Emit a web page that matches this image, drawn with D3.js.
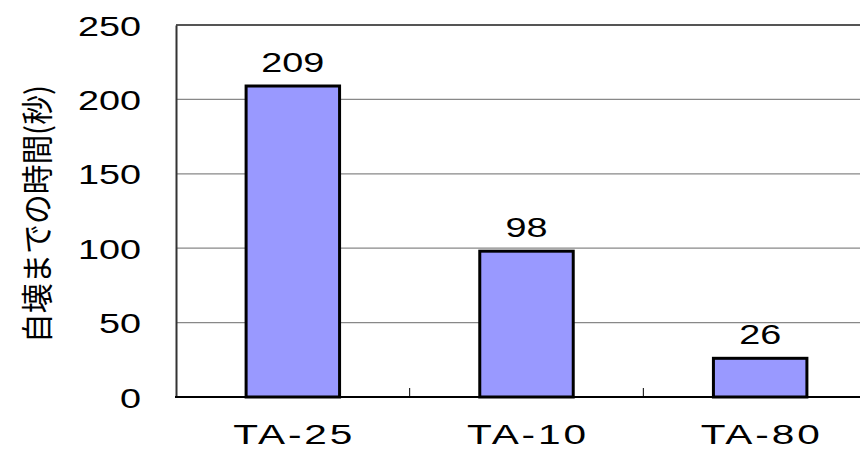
<!DOCTYPE html>
<html>
<head>
<meta charset="utf-8">
<script src="https://cdn.jsdelivr.net/npm/d3@7"></script>
<style>
  body { margin: 0; background: #fff; }
  svg { display: block; }
  text { font-family: "Liberation Sans", Arial, sans-serif; fill: #000; }
</style>
</head>
<body>
<div id="chart"></div>
<script>
'use strict';

var categories = ['TA-25', 'TA-10', 'TA-80'];
var values = [209, 98, 26];
var yTicks = [0, 50, 100, 150, 200, 250];
var yLabel = '自壊までの時間(秒)';

var width = 860, height = 449;
var margins = { left: 176, top: 25, right: -17, bottom: 52 };
var stretch = 1.35;
var xStretch = 1.45;
var xSpacing = 2;

var svg = d3.select('#chart').append('svg')
  .attr('width', width)
  .attr('height', height);

var xScale = d3.scaleBand()
  .domain(categories)
  .range([margins.left, width - margins.right])
  .paddingInner(0.6)
  .paddingOuter(0.3);

var yScale = d3.scaleLinear()
  .domain([0, 250])
  .range([height - margins.bottom, margins.top]);

// gridlines
svg.append('g')
  .attr('class', 'grid')
  .selectAll('line')
  .data(yTicks.filter(function(d) { return d > 0; }))
  .enter()
  .append('line')
  .attr('x1', margins.left)
  .attr('x2', width)
  .attr('y1', function(d) { return yScale(d); })
  .attr('y2', function(d) { return yScale(d); })
  .attr('stroke', function(d) { return d === 250 ? '#555' : '#888'; })
  .attr('stroke-width', function(d) { return d === 250 ? 2 : 1.2; });

// y axis
var yAxis = d3.axisLeft(yScale).tickValues(yTicks).tickSize(0).tickPadding(0);
var yAxisGroup = svg.append('g')
  .attr('class', 'yAxis')
  .attr('transform', 'translate(' + margins.left + ',0)')
  .call(yAxis);
yAxisGroup.select('.domain')
  .attr('stroke', '#333')
  .attr('stroke-width', 2);
yAxisGroup.selectAll('text')
  .attr('x', -35 / stretch)
  .attr('dy', '0.36em')
  .attr('transform', 'scale(' + stretch + ',1)')
  .style('font-size', '28px')
  .style('font-family', '"Liberation Sans", Arial, sans-serif')
  .attr('fill', '#000');

// bars
svg.append('g')
  .attr('class', 'bars')
  .selectAll('rect')
  .data(values)
  .enter()
  .append('rect')
  .attr('x', function(d, i) { return xScale(categories[i]); })
  .attr('y', function(d) { return yScale(d); })
  .attr('width', xScale.bandwidth())
  .attr('height', function(d) { return yScale(0) - yScale(d); })
  .attr('fill', '#9999ff')
  .attr('stroke', '#000')
  .attr('stroke-width', 3);

// value labels
svg.append('g')
  .attr('class', 'values')
  .selectAll('text')
  .data(values)
  .enter()
  .append('text')
  .attr('transform', function(d, i) {
    var cx = xScale(categories[i]) + xScale.bandwidth() / 2;
    return 'translate(' + cx + ',' + (yScale(d) - 14) + ') scale(' + stretch + ',1)';
  })
  .attr('text-anchor', 'middle')
  .style('font-size', '28px')
  .text(function(d) { return d; });

// x axis
var xAxisGroup = svg.append('g')
  .attr('class', 'xAxis')
  .attr('transform', 'translate(0,' + yScale(0) + ')');
xAxisGroup.append('line')
  .attr('x1', margins.left - 1)
  .attr('x2', width)
  .attr('stroke', '#000')
  .attr('stroke-width', 2);
xAxisGroup.selectAll('.sep')
  .data(categories.slice(1))
  .enter()
  .append('line')
  .attr('class', 'sep')
  .attr('x1', function(d) { return xScale(d) - xScale.step() * xScale.paddingInner() / 2; })
  .attr('x2', function(d) { return xScale(d) - xScale.step() * xScale.paddingInner() / 2; })
  .attr('y1', 0)
  .attr('y2', -9)
  .attr('stroke', '#000')
  .attr('stroke-width', 1);
xAxisGroup.selectAll('.label')
  .data(categories)
  .enter()
  .append('text')
  .attr('class', 'label')
  .attr('transform', function(d) {
    return 'translate(' + (xScale(d) + xScale.bandwidth() / 2) + ',47) scale(' + xStretch + ',1)';
  })
  .attr('text-anchor', 'middle')
  .attr('dx', xSpacing / 2)
  .style('font-size', '28px')
  .style('letter-spacing', xSpacing + 'px')
  .text(function(d) { return d; });

// y label, squeezed along its length like the original
var yLabelText = svg.append('text')
  .attr('text-anchor', 'middle')
  .attr('dominant-baseline', 'central')
  .style('font-family', '"Noto Sans CJK JP", sans-serif')
  .style('font-size', '32px')
  .text(yLabel);
var natural = yLabelText.node().getComputedTextLength();
var squeeze = natural > 0 ? 258 / natural : 1;
yLabelText.attr('transform', 'translate(35,214) rotate(-90) scale(' + squeeze + ',1)');
</script>
</body>
</html>
